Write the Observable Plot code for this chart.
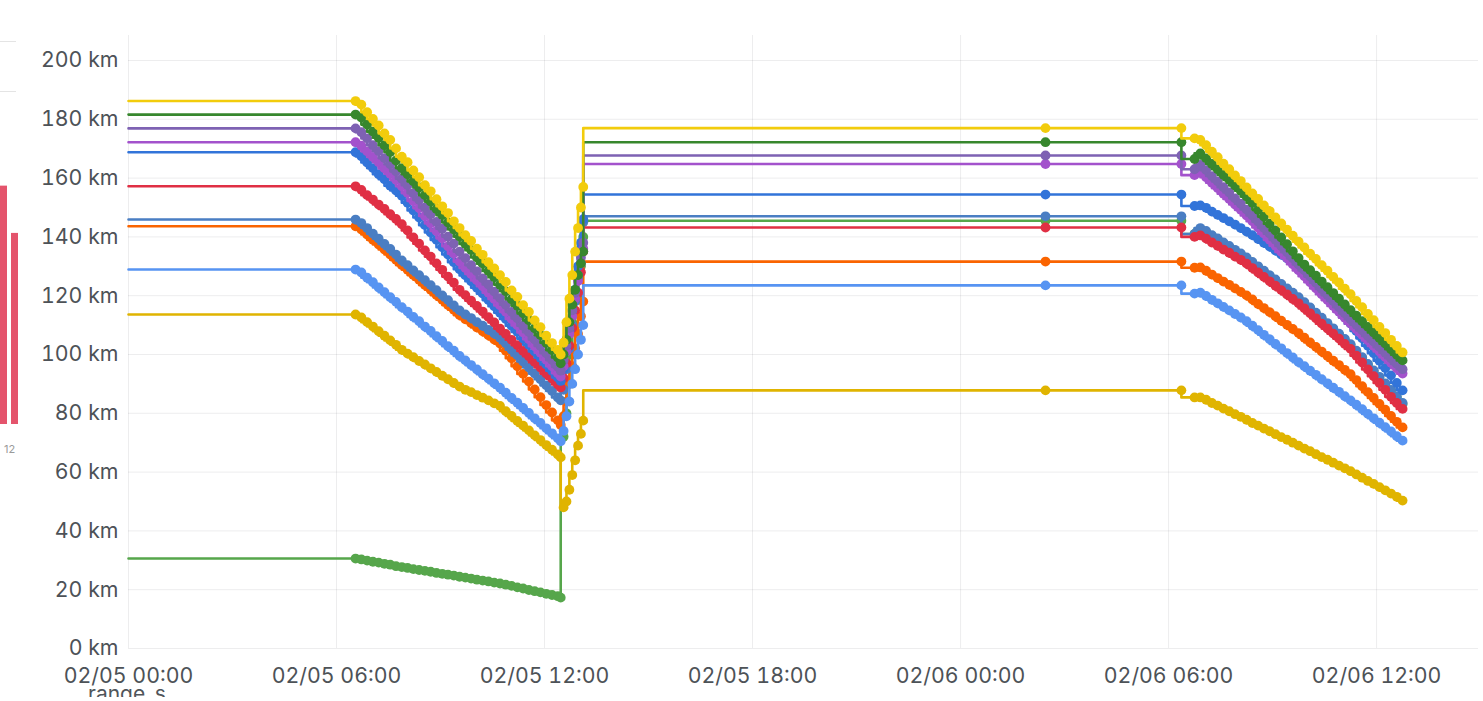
<!DOCTYPE html>
<html><head><meta charset="utf-8">
<script src="https://cdn.jsdelivr.net/npm/d3@7"></script>
<script src="https://cdn.jsdelivr.net/npm/@observablehq/plot@0.6"></script>
<style>
html,body{margin:0;padding:0;background:#fff;overflow:hidden;width:1483px;height:701px;font-family:Inter,sans-serif;}
#chart{position:absolute;left:0;top:0;}
#side{position:absolute;left:0;top:30px;}
#sideLabel{position:absolute;left:4px;top:442px;font-size:11px;color:#9a9a9a;}
.hl{position:absolute;left:0;width:16px;height:1px;background:#e4e4e4;}
#legendClip{position:absolute;left:88px;top:689px;height:8px;width:120px;overflow:hidden;}
#legend{position:absolute;left:0;top:-6px;font-size:21px;line-height:1;color:#50555a;white-space:nowrap;}
</style></head><body>
<div id="chart"></div>
<div id="side"></div>
<div id="sideLabel">12</div>
<div class="hl" style="top:41px"></div>
<div class="hl" style="top:91px"></div>
<div id="legendClip"><div id="legend">range_s</div></div>
<script>
// ---------- data ----------
const seriesKeys = ["yellow","darkGreen","purple","lightPurple","blue","red","steelBlue","orange","lightBlue","darkYellow","green"];
const seriesColors = ["#F2CC0C","#37872D","#7E62B3","#A352CC","#3274D9","#E02F44","#4A7EC3","#FA6400","#5794F2","#E0B400","#56A64B"];
// draw order (bottom -> top), indices into seriesKeys
const drawOrder = [10,7,6,8,9,5,4,3,2,1,0];

// first drive, 10-minute samples from 02/05 06:33
const yellow1 = [186.2,185.0,182.4,180.1,177.9,175.2,173.0,170.1,167.3,165.4,162.6,160.3,157.6,155.5,152.8,150.4,148.1,145.3,143.0,140.6,138.6,136.0,133.9,131.4,129.3,127.0,124.7,121.8,119.6,116.8,114.5,111.6,109.3,106.4,103.9,101.6];
const darkGreen1 = [181.6,180.6,178.2,175.8,173.7,171.2,168.9,166.0,163.4,161.3,158.9,156.8,154.2,152.0,149.5,147.4,144.9,142.5,140.1,137.6,135.5,133.0,130.9,128.4,126.3,123.7,121.5,118.8,116.6,114.0,111.6,108.9,106.6,104.0,101.5,99.0];
const purple1 = [176.9,175.6,173.5,171.2,169.2,166.8,164.7,162.3,159.8,157.6,154.9,152.6,150.0,147.7,145.1,142.8,140.1,137.7,135.0,132.8,130.4,128.3,125.9,123.8,121.4,119.2,116.9,114.5,112.3,109.8,107.6,105.1,102.9,100.4,98.1,95.8];
const lightPurple1 = [172.2,171.0,169.1,167.2,165.4,163.3,161.5,159.4,157.2,154.9,152.2,149.8,147.1,144.6,142.0,139.5,136.8,134.3,131.6,129.4,127.4,125.2,123.2,121.0,118.9,116.7,114.5,112.1,109.9,107.5,105.2,102.8,100.6,98.2,96.0,93.6];
const blue1 = [168.8,167.4,165.3,163.4,161.3,159.6,157.4,155.8,154.0,151.6,149.0,146.6,144.0,141.5,139.0,136.5,134.0,131.4,129.0,126.9,124.9,122.7,120.7,118.5,116.4,114.2,112.1,109.8,107.7,105.4,103.3,101.0,98.9,96.6,94.5,92.2];
const red1 = [157.2,156.0,154.2,152.7,151.0,149.5,147.7,146.1,144.3,142.2,139.8,137.7,135.4,133.3,131.0,128.8,126.5,124.4,122.0,120.2,118.3,116.5,114.6,112.7,110.9,108.8,107.0,105.0,103.2,101.2,99.4,97.4,95.6,93.5,91.8,89.8];
const steelBlue1 = [145.9,144.7,143.0,141.1,139.4,137.6,135.9,134.0,132.0,130.4,128.6,127.0,125.3,123.6,121.9,120.1,118.5,116.7,115.0,113.6,112.4,111.0,109.8,108.4,107.1,105.7,103.8,101.6,99.7,97.6,95.6,93.5,91.6,89.5,87.6,85.4];
const orange1 = [143.6,142.5,140.8,139.0,137.4,135.7,134.0,132.2,130.4,128.8,127.0,125.4,123.6,122.0,120.2,118.6,116.8,115.2,113.4,112.0,110.7,109.2,107.9,106.5,105.1,103.7,101.3,98.7,96.0,93.4,90.8,88.1,85.5,82.8,80.3,77.6];
const lightBlue1 = [128.9,127.9,126.1,124.6,122.8,121.2,119.5,117.9,116.1,114.6,112.8,111.3,109.5,108.0,106.2,104.6,102.8,101.3,99.5,98.0,96.4,94.9,93.3,91.8,90.2,88.7,87.0,85.2,83.6,81.8,80.1,78.3,76.7,74.9,73.2,71.5];
const darkYellow1 = [113.6,112.6,111.0,109.5,107.9,106.4,104.8,103.3,101.6,100.3,99.1,97.8,96.6,95.3,94.1,92.8,91.6,90.3,89.1,88.0,87.2,86.2,85.3,84.4,83.4,82.5,80.7,79.1,77.4,75.8,74.2,72.5,70.9,69.2,67.6,66.0];
const green1 = [30.6,30.3,29.9,29.5,29.2,28.8,28.5,28.0,27.7,27.4,27.0,26.7,26.4,26.1,25.7,25.4,25.1,24.8,24.4,24.1,23.8,23.4,23.1,22.8,22.4,22.1,21.7,21.3,20.8,20.4,19.9,19.5,19.1,18.6,18.2,17.8];

// recharge ramp 12:28 -> 13:07
const rampHours = [12.467,12.55,12.633,12.717,12.8,12.883,12.967,13.05,13.117];
const yellowRamp = [100,104,111,119,127,135,143,150,157];
const darkGreenRamp = [97,100,105,111,117,122,127,131,135];
const purpleRamp = [94.5,98,103,109,115,121,127,133,138];
const lightPurpleRamp = [92.5,96,101,107,113,119,125,131,136];
const blueRamp = [91,95,101,108,115,122,130,138,146];
const redRamp = [88.8,92,97,103,109,115,121,128,135];
const steelBlueRamp = [84.4,88,95,102,110,118,126,136,145];
const orangeRamp = [76,79,84,90,96,102,107,113,118];
const lightBlueRamp = [70.5,74,79,84,90,95,100,105,110];
const darkYellowRamp = [65,48,50,54,59,64,69,73,77.5];
const greenRamp = [17.3,72,80,90,100,110,120,130,140];

// overnight plateau (points at 02/06 02:27 and 06:20) and first reading of the second drive (06:45)
const plateauHours = [26.45, 30.37];
const plateau2 = [177,172.2,167.7,164.8,154.4,143.2,147,131.6,123.5,87.8,145.5];
const step2Hour = 30.75;
const step2 = [173.5,166.5,163,161,150.5,140,141,129.5,120.7,85.4,141];

// second drive, 10-minute samples from 02/06 06:55
const yellow2 = [173.0,171.2,169.0,167.1,164.9,163.0,160.9,159.0,156.8,154.8,152.9,150.7,148.8,146.6,144.6,142.5,140.4,138.4,136.4,134.3,132.5,130.4,128.5,126.4,124.5,122.4,120.5,118.2,116.1,113.8,111.7,109.4,107.3,105.0,102.9,100.7];
const darkGreen2 = [168.4,166.7,164.8,163.0,161.1,159.4,157.5,155.7,153.7,151.6,149.2,146.9,144.5,142.2,139.8,137.5,135.1,132.8,130.6,128.7,126.8,124.8,122.9,120.9,119.0,117.0,115.1,113.2,111.3,109.4,107.5,105.6,103.7,101.8,99.9,98.0];
const purple2 = [164.5,162.7,160.7,158.9,156.9,155.1,153.1,151.3,149.3,147.3,145.2,143.1,141.1,139.0,136.9,134.8,132.7,130.6,128.6,126.5,124.4,122.3,120.2,118.2,116.1,114.0,112.0,110.1,108.2,106.3,104.4,102.5,100.6,98.7,96.8,95.0];
const lightPurple2 = [162.0,160.3,158.4,156.6,154.7,152.9,151.0,149.2,147.3,145.3,143.2,141.1,139.0,137.0,134.9,132.8,130.7,128.6,126.6,124.6,122.5,120.5,118.5,116.5,114.5,112.5,110.5,108.6,106.7,104.8,102.9,101.0,99.1,97.2,95.3,93.5];
const blue2 = [150.7,149.9,148.6,147.5,146.4,145.3,144.2,143.0,141.8,140.6,139.3,138.0,136.7,135.4,134.0,132.7,131.4,130.0,128.1,125.9,123.7,121.5,119.3,117.1,114.9,112.7,110.5,108.0,105.5,103.0,100.4,97.9,95.4,92.9,90.3,87.8];
const red2 = [140.5,139.4,138.1,137.0,135.7,134.6,133.3,132.2,130.9,129.4,127.9,126.4,124.9,123.4,121.9,120.4,118.9,117.4,115.7,114.0,112.3,110.5,108.8,107.1,105.4,103.6,101.9,99.6,97.3,94.9,92.6,90.3,88.0,85.6,83.5,81.5];
const steelBlue2 = [143.0,142.0,140.6,139.5,138.1,136.9,135.6,134.4,133.0,131.5,130.0,128.5,127.0,125.5,124.0,122.5,121.0,119.5,117.8,116.0,114.2,112.5,110.7,108.9,107.1,105.3,103.5,101.3,99.1,96.8,94.6,92.4,90.2,88.0,85.7,83.5];
const orange2 = [129.6,128.5,127.2,126.0,124.8,123.7,122.5,121.3,120.1,118.7,117.2,115.8,114.4,113.0,111.5,110.1,108.7,107.3,105.7,104.1,102.6,101.0,99.5,97.9,96.4,94.8,93.3,91.3,89.2,87.2,85.2,83.2,81.2,79.1,77.1,75.2];
const lightBlue2 = [121.0,119.9,118.6,117.4,116.2,115.0,113.8,112.6,111.3,109.8,108.3,106.7,105.2,103.6,102.1,100.5,99.0,97.4,96.0,94.5,93.1,91.6,90.2,88.7,87.3,85.8,84.4,82.9,81.4,79.8,78.3,76.8,75.3,73.8,72.2,70.7];
const darkYellow2 = [85.4,84.6,83.5,82.6,81.6,80.7,79.7,78.8,77.8,76.7,75.8,74.8,73.9,72.9,71.9,71.0,70.0,69.0,68.0,67.1,66.1,65.1,64.2,63.2,62.2,61.3,60.3,59.2,58.1,57.0,56.0,54.9,53.8,52.7,51.6,50.3];
const green2 = [142.7,141.7,140.3,139.2,137.8,136.6,135.3,134.1,132.7,131.2,129.7,128.2,126.7,125.2,123.7,122.2,120.7,119.2,117.5,115.7,113.9,112.2,110.4,108.6,106.8,105.0,103.2,101.0,98.8,96.5,94.3,92.1,89.9,87.7,85.4,83.2];

const drive1StartHour = 6.55, drive2StartHour = 30.917, sampleHours = 1/6;
const xTickHours = [0,6,12,18,24,30,36];
const yTicks = [0,20,40,60,80,100,120,140,160,180,200];
const xEndHour = 38.94;

// neighbouring panel (clipped at the left edge)
const sideBars = ["a","b"];
const sideValues = [121, 97];

// ---------- build ----------
const drive1 = [yellow1,darkGreen1,purple1,lightPurple1,blue1,red1,steelBlue1,orange1,lightBlue1,darkYellow1,green1];
const ramps = [yellowRamp,darkGreenRamp,purpleRamp,lightPurpleRamp,blueRamp,redRamp,steelBlueRamp,orangeRamp,lightBlueRamp,darkYellowRamp,greenRamp];
const drive2 = [yellow2,darkGreen2,purple2,lightPurple2,blue2,red2,steelBlue2,orange2,lightBlue2,darkYellow2,green2];

const base = new Date(2025, 1, 5, 0, 0);
const at = h => new Date(+base + h * 3600e3);

function rowsFor(i) {
  const r = [];
  r.push({t: at(0), v: drive1[i][0], dot: false});
  drive1[i].forEach((v, k) => r.push({t: at(drive1StartHour + k * sampleHours), v, dot: true}));
  ramps[i].forEach((v, k) => r.push({t: at(rampHours[k]), v, dot: true}));
  plateauHours.forEach(h => r.push({t: at(h), v: plateau2[i], dot: true}));
  r.push({t: at(step2Hour), v: step2[i], dot: true});
  drive2[i].forEach((v, k) => r.push({t: at(drive2StartHour + k * sampleHours), v, dot: true}));
  return r;
}

const marks = [];
for (const i of drawOrder) {
  const rows = rowsFor(i);
  marks.push(Plot.line(rows, {x: "t", y: "v", stroke: seriesColors[i], strokeWidth: 2.6, curve: "step-before"}));
  marks.push(Plot.dot(rows.filter(d => d.dot), {x: "t", y: "v", fill: seriesColors[i], r: 4.9}));
}

const chart = Plot.plot({
  width: 1483, height: 701,
  marginLeft: 128, marginRight: 5, marginTop: 35, marginBottom: 53,
  style: {fontFamily: "Inter, sans-serif", fontSize: "21.3px", color: "#4d5257", background: "transparent", overflow: "visible"},
  x: {type: "time", domain: [at(0), at(xEndHour)], ticks: xTickHours.map(at), tickFormat: d3.timeFormat("%m/%d %H:%M"), tickSize: 0, tickPadding: 19, label: null, grid: true},
  y: {domain: [0, 208.5], ticks: yTicks, tickFormat: d => `${d} km`, tickSize: 0, tickPadding: 10, label: null, grid: true},
  marks
});
document.getElementById("chart").append(chart);

const side = Plot.plot({
  width: 24, height: 394, marginLeft: 0, marginRight: 6, marginTop: 0, marginBottom: 0,
  x: {type: "band", domain: sideBars, paddingInner: 0.4, paddingOuter: 0, axis: null},
  y: {domain: [0, 200], axis: null},
  marks: [Plot.barY(sideBars.map((b, i) => ({b, v: sideValues[i]})), {x: "b", y: "v", fill: "#E4546C"})]
});
document.getElementById("side").append(side);
</script></body></html>
